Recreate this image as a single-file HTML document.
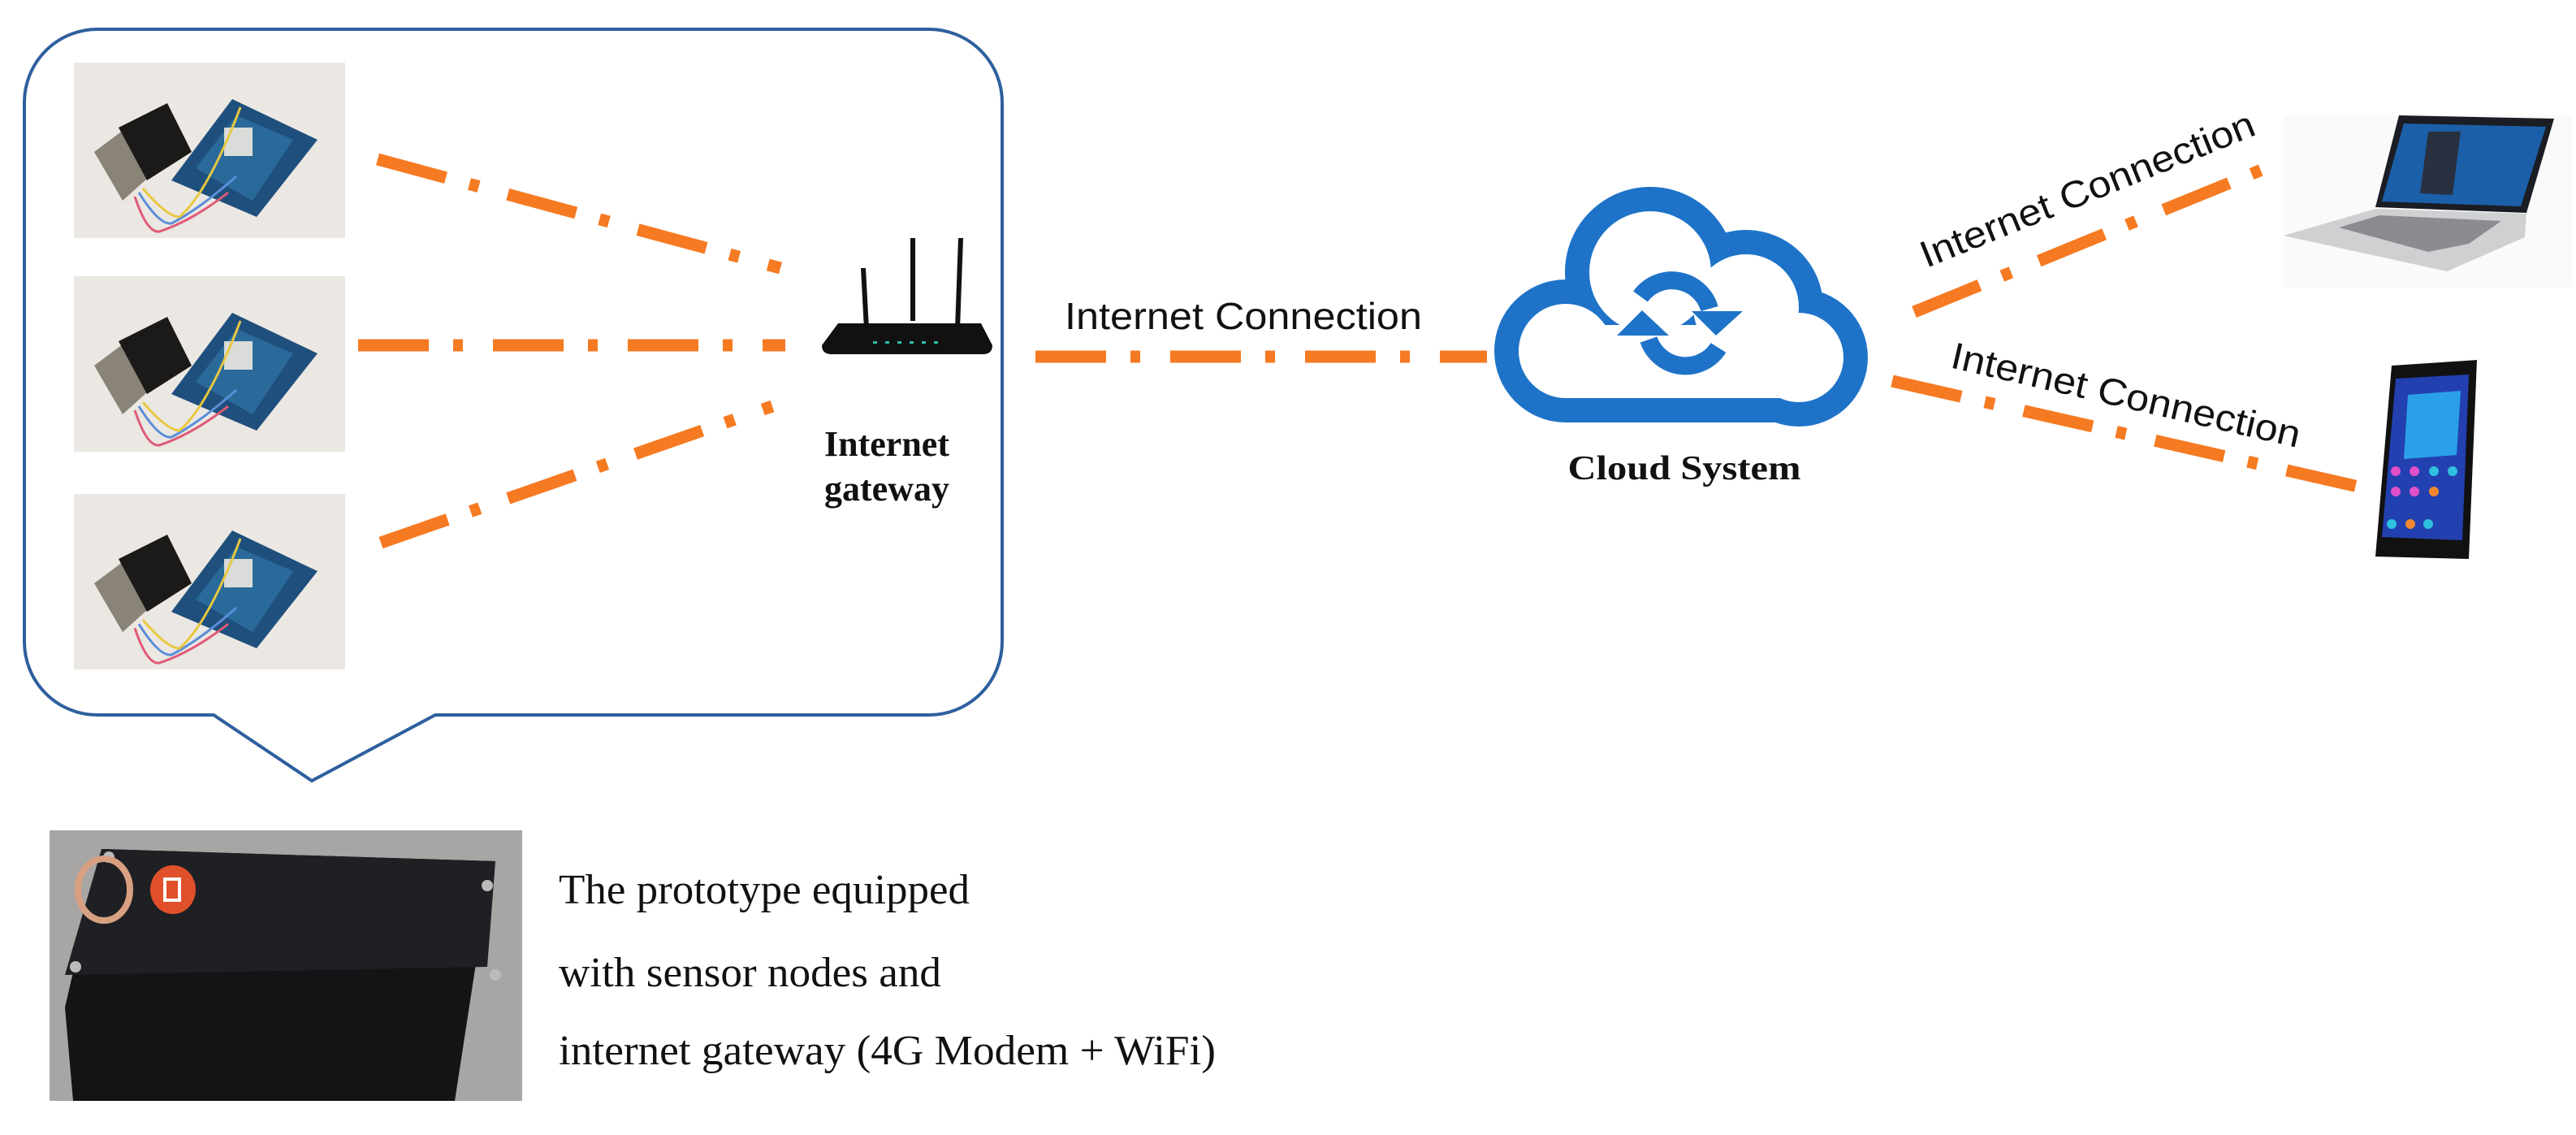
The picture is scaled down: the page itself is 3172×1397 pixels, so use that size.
<!DOCTYPE html>
<html><head><meta charset="utf-8"><style>
html,body{margin:0;padding:0;background:#fff;}
svg{display:block;}
</style></head><body>
<svg width="3172" height="1397" viewBox="0 0 3172 1397" xmlns="http://www.w3.org/2000/svg">
<rect width="3172" height="1397" fill="#fff"/>
<path d="M120 36 H1144 A90 90 0 0 1 1234 126 V790 A90 90 0 0 1 1144 880 H536 L384 961 L263 880 H120 A90 90 0 0 1 30 790 V126 A90 90 0 0 1 120 36 Z" fill="none" stroke="#2e5f9e" stroke-width="4"/>

<defs>
<g id="sn">
<rect x="0" y="0" width="334" height="216" fill="#ebe7e3"/>
<polygon points="25,110 85,65 110,125 60,170" fill="#8a8478"/>
<polygon points="55,80 115,50 145,110 90,145" fill="#1c1a18"/>
<polygon points="120,145 195,45 300,95 225,190" fill="#1f4f7c"/>
<polygon points="150,130 200,65 270,95 220,170" fill="#2a6a9a"/>
<rect x="185" y="80" width="35" height="35" fill="#d9dcd8"/>
<path d="M75 165 Q90 210 105 208 Q145 195 190 160" stroke="#e05a78" stroke-width="3" fill="none"/>
<path d="M80 160 Q105 200 120 198 Q155 180 200 140" stroke="#5a8ed8" stroke-width="3" fill="none"/>
<path d="M85 155 Q115 190 130 190 Q165 160 205 55" stroke="#e8c840" stroke-width="3" fill="none"/>
</g>
</defs>
<use href="#sn" x="91" y="77"/>
<use href="#sn" x="91" y="340"/>
<use href="#sn" x="91" y="608"/>

<g fill="#111">
<polygon points="1060,330 1066,330 1070,405 1064,405"/>
<polygon points="1121,293 1127,293 1127,395 1121,395"/>
<polygon points="1180,293 1186,293 1182,405 1176,405"/>
<path d="M1032 398 H1208 L1222 425 Q1222 436 1210 436 H1024 Q1012 436 1012 425 Z"/>
</g>
<g fill="#2bc0a8"><rect x="1075" y="420" width="5" height="3"/><rect x="1090" y="420" width="5" height="3"/><rect x="1105" y="420" width="5" height="3"/><rect x="1120" y="420" width="5" height="3"/><rect x="1135" y="420" width="5" height="3"/><rect x="1150" y="420" width="5" height="3"/></g>
<text x="1092" y="561" font-family="Liberation Serif, serif" font-weight="bold" font-size="44" text-anchor="middle" fill="#111">Internet</text>
<text x="1092" y="616" font-family="Liberation Serif, serif" font-weight="bold" font-size="44" text-anchor="middle" fill="#111">gateway</text>

<g stroke="#f57a22" stroke-width="15" fill="none" stroke-dasharray="87,30,12,37">
<line x1="465" y1="196" x2="961" y2="330"/>
<line x1="441" y1="425" x2="967" y2="425"/>
<line x1="469" y1="668" x2="951" y2="500"/>
<line x1="1275" y1="439" x2="1831" y2="439"/>
<line x1="2357" y1="384" x2="2802" y2="202"/>
<line x1="2330" y1="469" x2="2913" y2="601"/>
</g>

<g font-family="Liberation Sans, sans-serif" font-size="46" fill="#111">
<text x="1311" y="405" textLength="440" lengthAdjust="spacingAndGlyphs">Internet Connection</text>
<text x="2372" y="330" textLength="440" lengthAdjust="spacingAndGlyphs" transform="rotate(-22 2372 330)">Internet Connection</text>
<text x="2400" y="452" textLength="440" lengthAdjust="spacingAndGlyphs" transform="rotate(13 2400 452)">Internet Connection</text>
</g>

<g fill="#1e73c8">
<circle cx="1928" cy="432" r="88"/>
<circle cx="2032" cy="335" r="105"/>
<circle cx="2150" cy="378" r="95"/>
<circle cx="2215" cy="440" r="85"/>
<rect x="1928" y="400" width="287" height="120"/>
</g>
<g fill="#fff">
<circle cx="1928" cy="432" r="58"/>
<circle cx="2032" cy="335" r="75"/>
<circle cx="2150" cy="378" r="65"/>
<circle cx="2215" cy="440" r="55"/>
<rect x="1928" y="400" width="287" height="90"/>
</g>
<g fill="none" stroke="#1e73c8" stroke-width="22">
<path d="M2020 365 A48 48 0 0 1 2105 380"/>
<path d="M2116 428 A48 48 0 0 1 2030 418"/>
</g>
<g fill="#1e73c8">
<polygon points="2083,383 2146,383 2113,413"/>
<polygon points="2022,382 1991,413 2055,413"/>
</g>
<text x="2074" y="590" font-family="Liberation Serif, serif" font-weight="bold" font-size="42" text-anchor="middle" textLength="287" lengthAdjust="spacingAndGlyphs" fill="#111">Cloud System</text>

<rect x="2812" y="142" width="355" height="212" fill="#fafafa"/>
<polygon points="2954,142 3145,146 3111,262 2925,255" fill="#1a1d24"/>
<polygon points="2960,152 3135,156 3104,254 2933,248" fill="#1b5fa8"/>
<polygon points="2990,162 3030,162 3020,240 2980,238" fill="#2a3040"/>
<polygon points="2812,290 2925,257 3111,263 3109,292 3013,334" fill="#cfd0d2"/>
<polygon points="2880,280 2930,265 3080,272 3040,300 2990,310" fill="#8a8c90"/>
<polygon points="2945,450 3050,443 3040,688 2925,685" fill="#111"/>
<polygon points="2950,466 3040,461 3032,665 2933,661" fill="#2240b0"/>
<polygon points="2965,486 3030,481 3025,560 2960,565" fill="#2aa0e8"/>
<g fill="#e050c8"><circle cx="2950" cy="580" r="6"/><circle cx="2973" cy="580" r="6"/><circle cx="2950" cy="605" r="6"/><circle cx="2973" cy="605" r="6"/></g>
<g fill="#30c0e0"><circle cx="2997" cy="580" r="6"/><circle cx="3020" cy="580" r="6"/><circle cx="2945" cy="645" r="6"/><circle cx="2990" cy="645" r="6"/></g>
<g fill="#f08830"><circle cx="2997" cy="605" r="6"/><circle cx="2968" cy="645" r="6"/></g>

<rect x="61" y="1022" width="582" height="333" fill="#a8a6a4"/>
<polygon points="125,1045 610,1060 590,1160 560,1355 90,1355 80,1240" fill="#141416"/>
<polygon points="125,1045 610,1060 600,1190 80,1200" fill="#1f2024"/>
<circle cx="134" cy="1055" r="7" fill="#bbb"/><circle cx="600" cy="1090" r="7" fill="#bbb"/><circle cx="93" cy="1190" r="7" fill="#bbb"/><circle cx="610" cy="1200" r="7" fill="#bbb"/>
<ellipse cx="128" cy="1095" rx="32" ry="38" fill="none" stroke="#d8a080" stroke-width="8"/>
<ellipse cx="213" cy="1095" rx="28" ry="30" fill="#e0502a"/>
<rect x="203" y="1082" width="18" height="26" fill="none" stroke="#fff" stroke-width="4"/>

<g font-family="Liberation Serif, serif" font-size="52" fill="#111">
<text x="688" y="1112" textLength="506" lengthAdjust="spacingAndGlyphs">The prototype equipped</text>
<text x="688" y="1214" textLength="471" lengthAdjust="spacingAndGlyphs">with sensor nodes and</text>
<text x="688" y="1310" textLength="809" lengthAdjust="spacingAndGlyphs">internet gateway (4G Modem + WiFi)</text>
</g>
</svg>
</body></html>
